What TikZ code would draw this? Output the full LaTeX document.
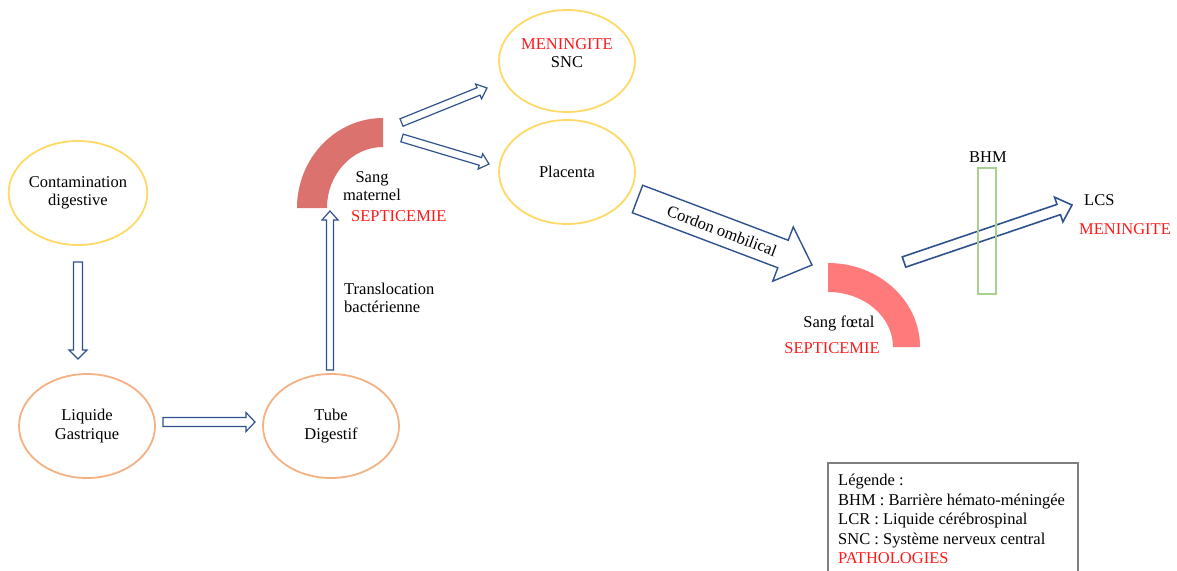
\documentclass[tikz,border=0pt]{standalone}
\usepackage{fontspec}
\setmainfont{Liberation Serif}
\usetikzlibrary{shapes.geometric,calc}
\definecolor{ayellow}{HTML}{FFD966}
\definecolor{aorange}{HTML}{F4B183}
\definecolor{ablue}{HTML}{2F528F}
\definecolor{agreen}{HTML}{A9D18E}
\definecolor{amat}{RGB}{220,114,110}
\definecolor{afoet}{RGB}{255,122,122}
\definecolor{ared}{RGB}{255,25,25}
\definecolor{agray}{HTML}{7F7F7F}
\newcommand\blockarrow[6][]{%
 \draw[barrow,#1] let \p1=(#2), \p2=(#3), \n1={atan2(\y2-\y1,\x2-\x1)}, \n2={veclen(\x2-\x1,\y2-\y1)} in
 ($(\p1)+(\n1+90:#4)$) -- ($(\p1)+(\n1:\n2-#6)+(\n1+90:#4)$) -- ($(\p1)+(\n1:\n2-#6)+(\n1+90:#5)$) -- (\p2) -- ($(\p1)+(\n1:\n2-#6)+(\n1-90:#5)$) -- ($(\p1)+(\n1:\n2-#6)+(\n1-90:#4)$) -- ($(\p1)+(\n1-90:#4)$) -- cycle;}
\begin{document}
\begin{tikzpicture}[x=1pt,y=1pt,
  every node/.style={font=\fontsize{16.5}{18.5}\selectfont, inner sep=0pt},
  ell/.style={ellipse, draw, line width=1.8pt, minimum width=136pt, minimum height=104pt, align=center},
  barrow/.style={draw=ablue, line width=1.2pt, line join=miter},
  txt/.style={align=center},
  redtxt/.style={text=ared},
  legline/.style={anchor=base west}]
\useasboundingbox (0,0) rectangle (1177,-570);
% ellipses
\node[ell, draw=ayellow] (cont) at (78,-193) {Contamination\\digestive};
\node[ell, draw=aorange] (liq) at (87,-426) {Liquide\\Gastrique};
\node[ell, draw=aorange] (tube) at (331,-426) {Tube\\Digestif};
\node[ell, draw=ayellow, minimum height=102pt] (snc) at (567,-61) {};
\node[txt] (sncT) at (567,-53) {\textcolor{ared}{MENINGITE}\\SNC};
\node[ell, draw=ayellow] (plac) at (567,-172) {Placenta};
% blood arcs
\fill[amat] (297,-208) arc[start angle=180,end angle=90,x radius=86,y radius=90] -- (383,-147) arc[start angle=90,end angle=180,x radius=56,y radius=61] -- cycle;
\fill[afoet] (828,-263) arc[start angle=90,end angle=0,x radius=92,y radius=84] -- (893,-347) arc[start angle=0,end angle=90,x radius=65,y radius=55] -- cycle;
% arrow end points
\coordinate (a1s) at (78,-262); \coordinate (a1e) at (78,-359);
\coordinate (a2s) at (163,-422); \coordinate (a2e) at (255,-422);
\coordinate (a3s) at (330,-370); \coordinate (a3e) at (330,-211);
\coordinate (a4s) at (401.5,-122.5); \coordinate (a4e) at (487,-88);
\coordinate (a5s) at (402,-138); \coordinate (a5e) at (489,-164);
\coordinate (a6s) at (637.5,-199); \coordinate (a6e) at (812,-265);
\coordinate (a7s) at (904,-262); \coordinate (a7e) at (1072,-205);
\blockarrow{a1s}{a1e}{4.5}{9}{9}
\blockarrow{a2s}{a2e}{4.5}{9.5}{9}
\blockarrow{a3s}{a3e}{3.5}{8}{9}
\blockarrow{a4s}{a4e}{4}{8}{9}
\blockarrow{a5s}{a5e}{4}{8}{9}
\blockarrow[line width=1.4pt]{a6s}{a6e}{14.7}{29}{31}
\blockarrow[line width=1.6pt]{a7s}{a7e}{5.4}{13}{14}
% barrier
\node[draw=agreen, line width=2.5pt, minimum width=18pt, minimum height=126pt] (bhmr) at (987,-231) {};
% labels
\node (cord) at (722,-231) [rotate=-20.7] {Cordon ombilical};
\node[txt] (smat) at (372,-186) {Sang\\maternel};
\node[redtxt, anchor=west] (sep1) at (351,-216) {SEPTICEMIE};
\node[align=left, anchor=west] (transl) at (344,-298) {Translocation\\bactérienne};
\node (sfoe) at (839,-323) {Sang fœtal};
\node[redtxt] (sep2) at (832,-348) {SEPTICEMIE};
\node (bhm) at (988,-157) {BHM};
\node[anchor=west] (lcs) at (1084,-200) {LCS};
\node[redtxt, anchor=west] (men2) at (1079,-229) {MENINGITE};
% legend
\draw[agray, line width=1.5pt] (828,-575) -- (828,-463) -- (1078,-463) -- (1078,-575);
\node[legline] (l1) at (838,-485.5) {Légende :};
\node[legline] (l2) at (838,-505) {BHM : Barrière hémato-méningée};
\node[legline] (l3) at (838,-524.5) {LCR : Liquide cérébrospinal};
\node[legline] (l4) at (838,-544) {SNC : Système nerveux central};
\node[legline, redtxt] (l5) at (838,-563.5) {PATHOLOGIES};
\end{tikzpicture}
\end{document}
